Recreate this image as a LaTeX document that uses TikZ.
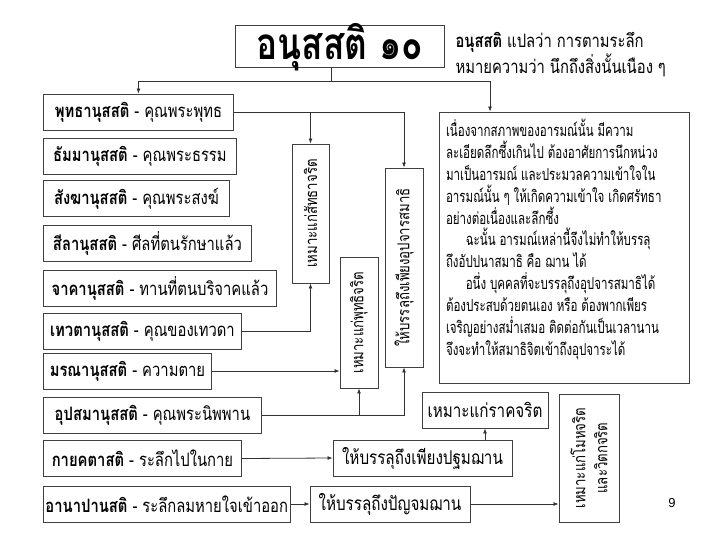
\documentclass[tikz,border=0pt]{standalone}
\usepackage{fontspec}
\setmainfont[Script=Thai, FakeStretch=0.8]{Loma}
\newfontfamily\narrowthai[Script=Thai, FakeStretch=0.7]{Loma}
\newfontfamily\numfont{Liberation Sans}
\usetikzlibrary{arrows.meta,positioning,calc}
\newcommand{\anusati}[2]{\textbf{#1} - #2}

\begin{document}
\begin{tikzpicture}[x=1pt, y=-1pt,
  anu/.style={rectangle, draw=black!75, line width=0.9pt, anchor=west,
    minimum height=36pt, inner sep=2pt, font=\fontsize{18.5}{21}\selectfont},
  res/.style={rectangle, draw=black!75, line width=0.9pt,
    minimum height=36pt, inner sep=2pt, font=\fontsize{19}{22}\selectfont},
  vres/.style={res, rotate=90, font=\fontsize{16.5}{19}\selectfont},
  ln/.style={line width=0.8pt, black!80},
  arr/.style={ln, -{Latex[length=5pt,width=4pt]}}
]
  \useasboundingbox (0,0) rectangle (720,540);

  % title and meaning
  \node[rectangle, draw=black!75, line width=0.9pt, minimum width=209pt,
    minimum height=42pt, inner sep=0pt, text height=30pt, text depth=2pt,
    font=\bfseries\fontsize{44}{48}\selectfont] (title) at (340,46) {อนุสสติ ๑๐};
  \node[anchor=north west, align=left, font=\fontsize{18.5}{23}\selectfont] (meaning) at (452,29)
    {\textbf{อนุสสติ} แปลว่า การตามระลึก\\หมายความว่า นึกถึงสิ่งนั้นเนือง ๆ};

  % the ten recollections
  \node[anu, minimum width=190pt] (b1) at (43,112)   {\anusati{พุทธานุสสติ}{คุณพระพุทธ}};
  \node[anu, minimum width=193pt] (b2) at (43,156)   {\anusati{ธัมมานุสสติ}{คุณพระธรรม}};
  \node[anu, minimum width=186pt] (b3) at (43,198.5) {\anusati{สังฆานุสสติ}{คุณพระสงฆ์}};
  \node[anu, minimum width=208pt] (b4) at (43,243.5) {\anusati{สีลานุสสติ}{ศีลที่ตนรักษาแล้ว}};
  \node[anu, minimum width=233pt] (b5) at (43,288.5) {\anusati{จาคานุสสติ}{ทานที่ตนบริจาคแล้ว}};
  \node[anu, minimum width=198pt] (b6) at (43,331)   {\anusati{เทวตานุสสติ}{คุณของเทวดา}};
  \node[anu, minimum width=168pt] (b7) at (43,371)   {\anusati{มรณานุสสติ}{ความตาย}};
  \node[anu, minimum width=218pt] (b8) at (43,415.5) {\anusati{อุปสมานุสสติ}{คุณพระนิพพาน}};
  \node[anu, minimum width=198pt] (b9) at (43,458.5) {\anusati{กายคตาสติ}{ระลึกไปในกาย}};
  \node[anu, minimum width=246pt] (b10) at (43,504) {\anusati{อานาปานสติ}{ระลึกลมหายใจเข้าออก}};

  % results
  \node[vres, minimum width=139pt, minimum height=37pt] (saddha) at (310.5,213.5) {เหมาะแก่สัทธาจริต};
  \node[vres, minimum width=131pt, minimum height=38pt] (buddhi) at (359,322.5) {เหมาะแก่พุทธิจริต};
  \node[vres, minimum width=199pt, minimum height=38pt] (upacara) at (404,267.5) {ให้บรรลุถึงเพียงอุปจารสมาธิ};
  \node[res, minimum width=126pt] (raga) at (485,410) {เหมาะแก่ราคจริต};
  \node[res, minimum width=179pt] (pathama) at (422.5,458) {ให้บรรลุถึงเพียงปฐมฌาน};
  \node[res, minimum width=160pt] (pancama) at (390,504) {ให้บรรลุถึงปัญจมฌาน};
  \node[vres, minimum width=128pt, minimum height=60pt, align=center,
    font=\fontsize{16.5}{22}\selectfont] (moha) at (589,458)
    {เหมาะแก่โมหจริต\\และวิตกจริต};

  % explanation
  \node[rectangle, draw=black!75, line width=0.9pt, inner sep=7pt] (expl) at (564,247.5)
    {\parbox[c][257pt][t]{236pt}{\raggedright\narrowthai\fontsize{16.5}{21.9}\selectfont
     \rule{0pt}{14pt}เนื่องจากสภาพของอารมณ์นั้น มีความ\\
     ละเอียดลึกซึ้งเกินไป ต้องอาศัยการนึกหน่วง\\
     มาเป็นอารมณ์ และประมวลความเข้าใจใน\\
     อารมณ์นั้น ๆ ให้เกิดความเข้าใจ เกิดศรัทธา\\
     อย่างต่อเนื่องและลึกซึ้ง\\
     \hspace*{1.2em}ฉะนั้น อารมณ์เหล่านี้จึงไม่ทำให้บรรลุ\\
     ถึงอัปปนาสมาธิ คือ ฌาน ได้\\
     \hspace*{1.2em}อนึ่ง บุคคลที่จะบรรลุถึงอุปจารสมาธิได้\\
     ต้องประสบด้วยตนเอง หรือ ต้องพากเพียร\\
     เจริญอย่างสม่ำเสมอ ติดต่อกันเป็นเวลานาน\\
     จึงจะทำให้สมาธิจิตเข้าถึงอุปจาระได้}};

  \node[font=\numfont\fontsize{13}{15}\selectfont] (pagenum) at (672,503) {9};

  % connectors
  \coordinate (bus) at (331,81);
  \draw[ln] (title.south -| bus) -- (bus);
  \draw[arr] (bus) -| (b1.north);
  \draw[arr] (bus) -| ([xshift=-74pt]expl.north);

  \draw[arr] (b1.east) -| (upacara.east);
  \draw[arr] (b1.east -| saddha.east) -- (saddha.east);
  \draw[arr] (b6.east) -| (saddha.west);
  \draw[arr] (b7.east) -- (b7.east -| buddhi.north);
  \draw[ln] (b8.east) -- (b8.east -| upacara.west);
  \draw[arr] (b8.east -| buddhi.west) -- (buddhi.west);
  \draw[arr] (b8.east -| upacara.west) -- (upacara.west);
  \draw[arr] (b9.east) -- (pathama.west);
  \draw[arr] (b10.east) -- (pancama.west);
  \draw[arr] (raga.south |- pathama.north) -- (raga.south);
  \draw[arr] (pancama.east) -- (pancama.east -| moha.north);
\end{tikzpicture}
\end{document}
